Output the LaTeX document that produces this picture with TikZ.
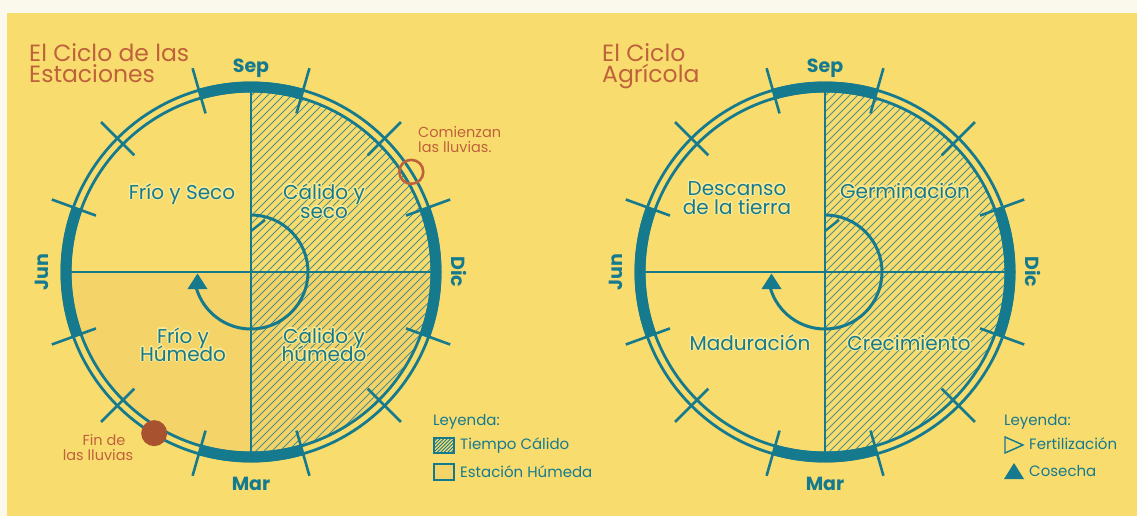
\documentclass[tikz,border=0pt]{standalone}
\usepackage{fontspec}
\setmainfont{Poppins}
\definecolor{paper}{RGB}{251,248,236}
\definecolor{bgy}{RGB}{249,220,110}
\definecolor{halo}{RGB}{251,234,148}
\definecolor{wet}{RGB}{244,211,104}
\definecolor{tealc}{RGB}{22,122,143}
\definecolor{hatchc}{RGB}{80,144,140}
\definecolor{rust}{RGB}{190,98,60}
\definecolor{rustdot}{RGB}{168,82,48}
\tikzset{
  lbl/.style={text=tealc, font=\fontsize{20}{22}\selectfont, inner sep=0pt, anchor=base},
  month/.style={text=tealc, font=\bfseries\fontsize{19}{20}\selectfont, inner sep=0pt},
  titulo/.style={text=rust, font=\fontsize{23.5}{24}\selectfont, inner sep=0pt, anchor=base west},
  nota/.style={text=rust, font=\fontsize{14.5}{15}\selectfont, inner sep=0pt, anchor=base},
  leyenda/.style={text=tealc, font=\fontsize{15}{16}\selectfont, inner sep=0pt, anchor=base west},
  ringline/.style={draw=tealc, line width=2.8pt},
  bar/.style={draw=tealc, line width=11pt},
  tickl/.style={draw=tealc, line width=2.6pt},
  quad/.style={draw=tealc, line width=2pt},
  hatchl/.style={draw=hatchc, line width=0.85pt},
  flecha/.style={draw=tealc, line width=3pt},
}
\newcommand\anillobase{%
  \begin{scope}
    \clip (0,-181) arc[start angle=-90,end angle=90,radius=181] -- cycle;
    \foreach \i in {-400,-392,...,190} \draw[hatchl] (\i,200) -- ++(400,-400);
  \end{scope}
  \draw[quad] (0,-181) -- (0,181);
  \draw[quad] (-181,0) -- (181,0);
  \draw[ringline] (0,0) circle[radius=189];
  \draw[ringline] (0,0) circle[radius=181];
  \foreach \s/\e in {-106/-74,74/106,-20/20,160/200}
    \draw[bar] (\s:185) arc[start angle=\s,end angle=\e,radius=185];
  \foreach \a in {-106,-74,74,106,-20,20,160,200,-45,45,135,225}
    \draw[tickl] (\a:165) -- (\a:212);
  \draw[flecha] (0,-57) arc[start angle=-90,end angle=163,radius=57];
  \fill[tealc] (-63.5,17) -- (-43.5,17) -- (-53.5,1.5) -- cycle;
  \draw[flecha, line width=2.4pt] (0,-41) -- (14,-52);
}
% label with a pale halo
\newcommand\halo[3]{%
  \foreach \k in {0,45,...,315}
    \node[lbl, text=halo, xshift={1.4*cos(\k)}, yshift={1.4*sin(\k)}] (#1h\k) at (#2) {#3};
  \node[lbl] (#1) at (#2) {#3};
}
\begin{document}
\begin{tikzpicture}[x=1pt,y=-1pt]
\useasboundingbox (0,0) rectangle (1137,516);
\fill[paper] (0,0) rectangle (1137,516);
\fill[bgy] (7,13) rectangle (1137,516);

% ---------- left circle ----------
\begin{scope}[shift={(251,272)}]
  \fill[wet] (181,0) arc[start angle=0,end angle=180,radius=181] -- cycle;
  \anillobase
  \draw[draw=rust, line width=2.6pt] (-32:189) circle[radius=12];
  \fill[rustdot] (121:188) circle[radius=13];
  \node[month] (Lsep) at (0,-204) {Sep};
  \node[month] (Lmar) at (0,212) {Mar};
  \node[month, rotate=90] (Ljun) at (-209,0) {Jun};
  \node[month, rotate=-90] (Ldic) at (208,0) {Dic};
  \halo{Lfs}{-69,-73}{Frío y Seco}
  \halo{Lcs1}{73,-73}{Cálido y}
  \halo{Lcs2}{73,-54}{seco}
  \halo{Lfh1}{-68,71}{Frío y}
  \halo{Lfh2}{-68,89}{Húmedo}
  \halo{Lch1}{73,71}{Cálido y}
  \halo{Lch2}{73,89}{húmedo}
\end{scope}

\node[titulo] (T1a) at (29,62) {El Ciclo de las};
\node[titulo] (T1b) at (29,83) {Estaciones};
\node[nota, anchor=base west] (N1a) at (418,138) {Comienzan};
\node[nota, anchor=base west] (N1b) at (418,152) {las lluvias.};
\node[nota] (N2a) at (104,445) {Fin de};
\node[nota] (N2b) at (98,460) {las lluvias};

% left legend
\node[leyenda] (LegL) at (433,425) {Leyenda:};
\begin{scope}
  \clip (434,438) rectangle (454,453);
  \foreach \i in {405,408.5,...,455} \draw[draw=tealc, line width=0.9pt] (\i,460) -- ++(30,-30);
\end{scope}
\draw[draw=tealc, line width=1.3pt] (434,438) rectangle (454,453);
\node[leyenda] (LegL1) at (460,449) {Tiempo Cálido};
\draw[draw=tealc, line width=1.3pt, fill=wet] (434,464) rectangle (454,480);
\node[leyenda] (LegL2) at (460,477) {Estación Húmeda};

% ---------- right circle ----------
\begin{scope}[shift={(825,272)}]
  \anillobase
  \node[month] (Rsep) at (0,-204) {Sep};
  \node[month] (Rmar) at (0,212) {Mar};
  \node[month, rotate=90] (Rjun) at (-209,0) {Jun};
  \node[month, rotate=-90] (Rdic) at (208,0) {Dic};
  \halo{Rd1}{-88,-77}{Descanso}
  \halo{Rd2}{-88,-58}{de la tierra}
  \halo{Rg}{80,-74}{Germinación}
  \halo{Rm}{-75,78}{Maduración}
  \halo{Rc}{84,78}{Crecimiento}
\end{scope}

\node[titulo] (T2a) at (602,62) {El Ciclo};
\node[titulo] (T2b) at (602,83) {Agrícola};

% right legend
\node[leyenda] (LegR) at (1004,425) {Leyenda:};
\draw[draw=tealc, line width=1.4pt, line join=miter] (1005,437) -- (1023,445) -- (1005,453) -- cycle;
\node[leyenda] (LegR1) at (1029,449) {Fertilización};
\fill[tealc] (1004,479) -- (1024,479) -- (1014,463) -- cycle;
\node[leyenda] (LegR2) at (1029,476) {Cosecha};
\end{tikzpicture}
\end{document}
